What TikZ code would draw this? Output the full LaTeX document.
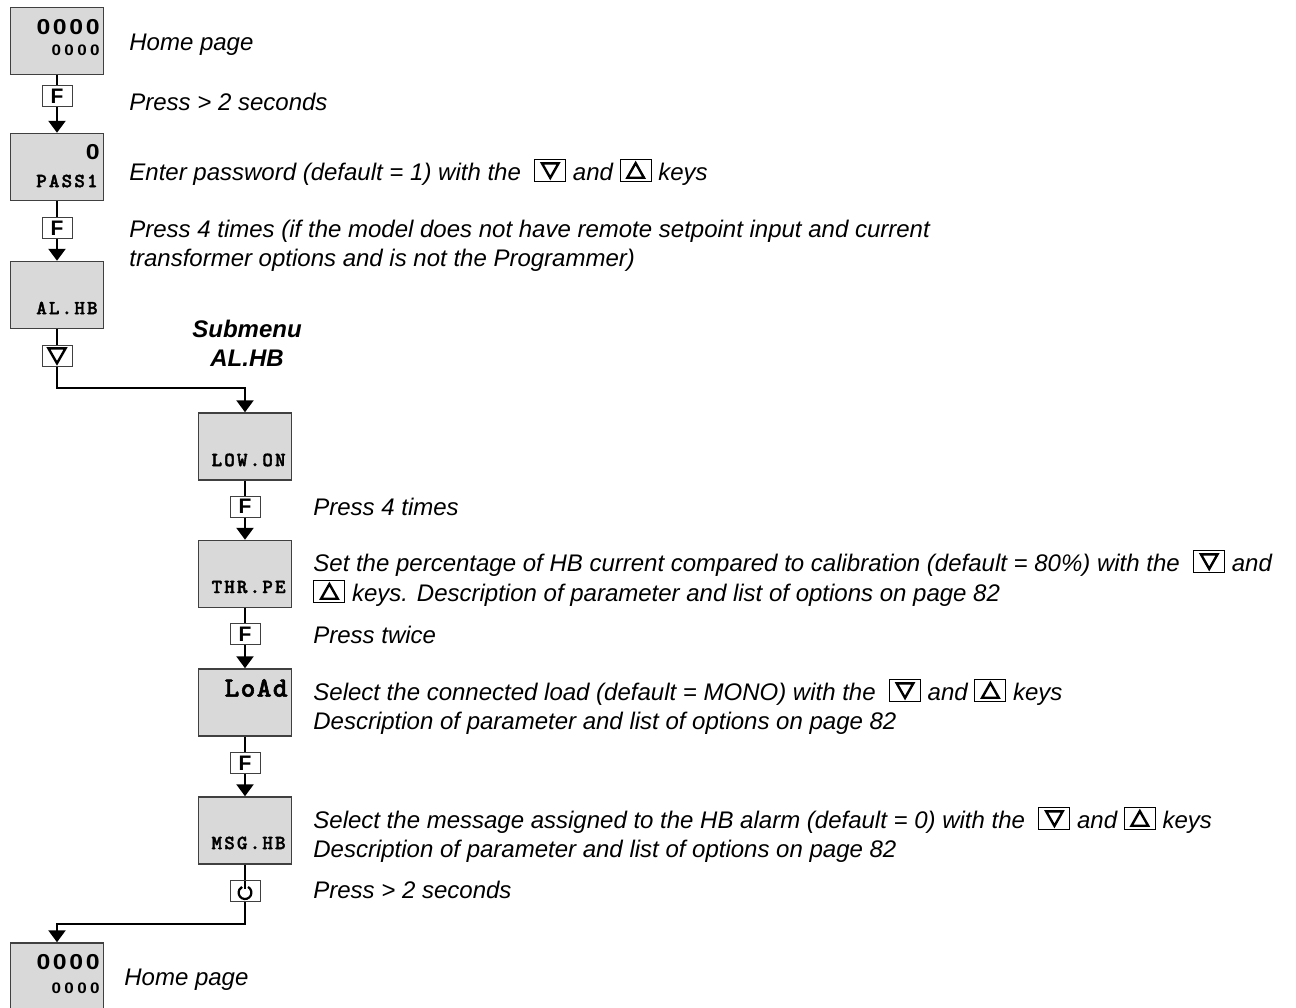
\documentclass[tikz,border=0pt]{standalone}
\usepackage{fontspec}
\setmainfont{Liberation Sans}
\newfontfamily\digfont[FakeStretch=1.15,LetterSpace=12]{Liberation Sans}
\newfontfamily\digsfont[FakeStretch=1.12,LetterSpace=22]{Liberation Sans}
\newfontfamily\lcdfont[LetterSpace=11,FakeBold=2]{lmmonolt10-bold.otf}
\newfontfamily\lcdbfont[LetterSpace=5,FakeBold=2]{lmmonolt10-bold.otf}
\usetikzlibrary{arrows.meta,positioning,calc}
\definecolor{PanelClr}{rgb}{0.85,0.85,0.85}
\definecolor{EdgeClr}{rgb}{0.25,0.25,0.25}

\newcommand{\keydn}{\tikz[baseline=0pt,x=1pt,y=1pt]{%
  \draw[line width=0.5pt] (0,-0.5) rectangle (15.5,10.5);
  \draw[line width=1.2pt,line join=miter] (3.6,8.6) -- (11.9,8.6) -- (7.75,1.3) -- cycle;}}
\newcommand{\keyup}{\tikz[baseline=0pt,x=1pt,y=1pt]{%
  \draw[line width=0.5pt] (0,-0.5) rectangle (15.5,10.5);
  \draw[line width=1.2pt,line join=miter] (3.6,1.4) -- (11.9,1.4) -- (7.75,8.7) -- cycle;}}

\tikzset{
  panel/.style={draw=EdgeClr,line width=0.75pt,fill=PanelClr,
    minimum width=46.5pt,minimum height=33.5pt,inner sep=0pt},
  keybox/.style={draw=EdgeClr,line width=0.5pt,fill=white,
    minimum width=15pt,minimum height=10.5pt,inner sep=0pt,
    font=\bfseries\fontsize{10.5}{12}\selectfont},
  flow/.style={line width=1.25pt},
  flowarr/.style={flow,-{Triangle[width=8.5pt,length=6pt]}},
  note/.style={anchor=base west,inner sep=0pt,font=\itshape\fontsize{12}{14.5}\selectfont},
  title/.style={anchor=base,inner sep=0pt,font=\bfseries\itshape\fontsize{12}{14.5}\selectfont},
  digbig/.style={anchor=east,inner sep=0pt,font=\digfont\bfseries\fontsize{10.8}{12}\selectfont},
  digsmall/.style={anchor=east,inner sep=0pt,font=\digsfont\bfseries\fontsize{7.6}{8}\selectfont},
  lcd/.style={anchor=east,inner sep=0pt,font=\lcdfont\fontsize{10}{11}\selectfont},
  lcdbig/.style={anchor=east,inner sep=0pt,font=\lcdbfont\fontsize{14}{15}\selectfont}
}

\begin{document}
\begin{tikzpicture}[x=0.5pt,y=-0.5pt]
\useasboundingbox (0,0) rectangle (1296,1007);

% display panels
\node[panel] (home) at (57,41) {};
\node[panel] (pass) at (57,167) {};
\node[panel] (alhb) at (57,295) {};
\node[panel] (lowon) at (245,446.5) {};
\node[panel] (thrpe) at (245,574) {};
\node[panel] (load) at (245,702.5) {};
\node[panel] (msghb) at (245,830.5) {};
\node[panel] (homeb) at (57,976.5) {};

\node[digbig] (homeTop) at (100,27) {0000};
\node[digsmall] (homeBot) at (100,50) {0000};
\node[digbig] (passTop) at (100,152) {0};
\node[lcd] (passBot) at (98,181) {PASS1};
\node[lcd] (alhbBot) at (98,308) {AL.HB};
\node[lcd] (lowonBot) at (286,460) {LOW.ON};
\node[lcd] (thrpeBot) at (286,587) {THR.PE};
\node[lcdbig] (loadTop) at (288,688) {LoAd};
\node[lcd] (msghbBot) at (286,843) {MSG.HB};
\node[digbig] (homebTop) at (100,962) {0000};
\node[digsmall] (homebBot) at (100,988) {0000};

% keys
\node[keybox] (kF1) at (57,96) {F};
\node[keybox] (kF2) at (57,228) {F};
\node[keybox] (kDn) at (57,355.5) {};
\node[keybox] (kF3) at (245,506.5) {F};
\node[keybox] (kF4) at (245,634) {F};
\node[keybox] (kF5) at (245,763) {F};
\node[keybox] (kEsc) at (245,891) {};

\begin{scope}[shift={(kDn.center)},x=1pt,y=1pt]
  \draw[line width=1.2pt,line join=miter] (-4.3,3.6) -- (4.3,3.6) -- (0,-3.9) -- cycle;
\end{scope}
\begin{scope}[shift={(kEsc.center)},x=1pt,y=1pt]
  \draw[line width=1.1pt] (0,-0.8) ++(62:3.2) arc[start angle=62,end angle=-242,radius=3.2];
  \draw[line width=1.1pt] (0,5.25) -- (0,1.2);
\end{scope}

% connectors
\coordinate (turnA) at (57,388);
\coordinate (turnB) at (245,924);
\draw[flow] (home) -- (kF1);
\draw[flowarr] (kF1) -- (pass);
\draw[flow] (pass) -- (kF2);
\draw[flowarr] (kF2) -- (alhb);
\draw[flow] (alhb) -- (kDn);
\draw[flowarr] (kDn) -- (turnA) -| (lowon);
\draw[flow] (lowon) -- (kF3);
\draw[flowarr] (kF3) -- (thrpe);
\draw[flow] (thrpe) -- (kF4);
\draw[flowarr] (kF4) -- (load);
\draw[flow] (load) -- (kF5);
\draw[flowarr] (kF5) -- (msghb);
\draw[flow] (msghb) -- (kEsc);
\draw[flowarr] (kEsc) -- (turnB) -| (homeb);

% descriptions
\node[note] (tHome) at (129,50.5) {Home page};
\node[note] (tHold) at (129,110.5) {Press > 2 seconds};
\node[note] (tPass) at (129,180.5) {Enter password (default = 1) with the \ \keydn{} and \keyup{} keys};
\node[note] (tFour) at (129,237.5) {Press 4 times (if the model does not have remote setpoint input and current};
\node[note] (tFourB) at (129,266.5) {transformer options and is not the Programmer)};
\node[title] (tSub) at (247,337.5) {Submenu};
\node[title] (tSubB) at (247,366.5) {AL.HB};
\node[note] (tLow) at (313,515.5) {Press 4 times};
\node[note] (tThr) at (313,571.5) {Set the percentage of HB current compared to calibration (default = 80\%) with the \ \keydn{} and};
\node[note] (tThrB) at (313,601.5) {\keyup{} keys. Description of parameter and list of options on page 82};
\node[note] (tTwice) at (313,643.5) {Press twice};
\node[note] (tLoad) at (313,700.5) {Select the connected load (default = MONO) with the \ \keydn{} and \keyup{} keys};
\node[note] (tLoadB) at (313,729.5) {Description of parameter and list of options on page 82};
\node[note] (tMsg) at (313,828.5) {Select the message assigned to the HB alarm (default = 0) with the \ \keydn{} and \keyup{} keys};
\node[note] (tMsgB) at (313,857.5) {Description of parameter and list of options on page 82};
\node[note] (tExit) at (313,898.5) {Press > 2 seconds};
\node[note] (tHomeB) at (124,985.5) {Home page};
\end{tikzpicture}
\end{document}
